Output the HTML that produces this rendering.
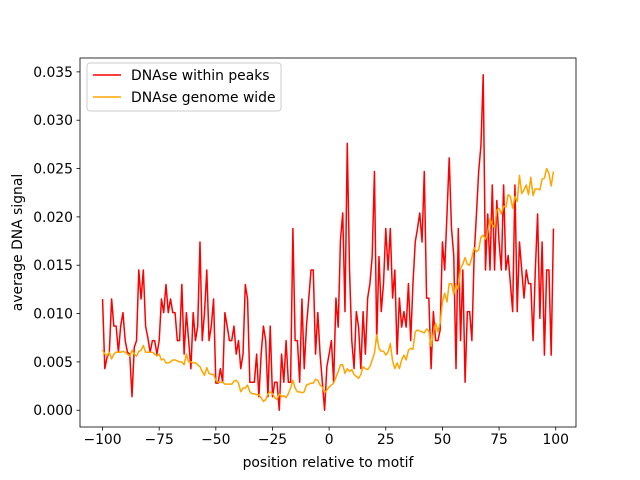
<!DOCTYPE html>
<html><head><meta charset="utf-8"><style>
html,body{margin:0;padding:0;background:#fff}
svg{display:block;font-family:"DejaVu Sans","Liberation Sans",sans-serif}
</style></head><body>
<svg id="chart" width="640" height="480" viewBox="0 0 640 480">
<rect width="640" height="480" fill="#fff"/>
<g id="plot"></g>
</svg>
<script>
const xStart = -100;
const redValues = [0.0115,0.0043,0.0055,0.006,0.0115,0.0087,0.0087,0.006,0.0087,0.0101,0.0072,0.006,0.0058,0.0014,0.0065,0.0072,0.0145,0.0115,0.0145,0.0087,0.0075,0.006,0.0072,0.0072,0.0058,0.0072,0.0115,0.0101,0.013,0.0101,0.0115,0.0101,0.0101,0.0072,0.0072,0.013,0.0058,0.0101,0.0072,0.0043,0.0101,0.0072,0.0087,0.0174,0.0072,0.0101,0.0145,0.0072,0.0087,0.0115,
0.0028,0.0028,0.0043,0.0029,0.0101,0.0087,0.0072,0.0072,0.0087,0.0058,0.0072,0.0043,0.0058,0.013,0.0115,0.0029,0.0029,0.0029,0.0058,0.0014,0.0058,0.0087,0.0072,0.0014,0.0087,0.0014,0.0029,0.0029,0,0.0058,0.0029,0.0072,0.0029,0.0029,0.0188,0.0072,0.0072,0.0029,0.0115,0.0043,0.0087,0.0115,0.0145,0.0145,0.0058,0.0101,0.0058,0.0029,
0,0.0045,0.0058,0.0072,0.0029,0.0116,0.0086,0.0176,0.0204,0.0102,0.0276,0.0145,0.0072,0.0043,0.0102,0.0086,0.0043,0.0102,0.0058,0.0116,0.0131,0.0159,0.0247,0.0072,0.0159,0.0102,0.0131,0.0188,0.0145,0.0188,0.0116,0.0145,0.0058,0.0116,0.0086,0.0102,0.0086,0.0131,0.0072,0.0131,0.0174,0.0188,0.0204,0.0174,0.0247,0.0116,0.0116,0.0043,0.0102,0.0072,0.0072,
0.0083,0.0174,0.0145,0.0202,0.0261,0.0188,0.016,0.0043,0.0188,0.0072,0.0145,0.0029,0.0102,0.0102,0.0072,0.016,0.0202,0.0247,0.0274,0.0347,0.0145,0.0203,0.0145,0.0233,0.0145,0.0217,0.0174,0.0145,0.0233,0.0145,0.016,0.0131,0.0102,0.0233,0.0102,0.0174,0.0145,0.0116,0.0145,0.0131,0.0131,0.0072,0.0145,0.0203,0.0095,0.0174,0.0057,0.0145,0.0145,0.0057,0.0188];
const orangeValues = [0.0062,0.0058,0.0057,0.006,0.0053,0.0058,0.006,0.006,0.006,0.0061,0.006,0.0058,0.0056,0.0062,0.0058,0.0056,0.0061,0.0062,0.0067,0.006,0.006,0.006,0.006,0.0058,0.0056,0.0058,0.0052,0.0053,0.0049,0.0049,0.005,0.0052,
0.0052,0.0051,0.005,0.005,0.0047,0.0058,0.005,0.005,0.0049,0.0049,0.0047,0.0045,0.004,0.0036,0.0044,0.0038,
0.0037,0.0037,0.0031,0.0029,0.0029,0.0029,0.0027,0.0027,0.0027,0.0027,0.003,0.0031,0.0028,0.0019,0.0023,0.0023,0.0026,0.0019,0.0017,0.0017,0.0016,0.0016,0.0013,0.0009,0.0011,0.0017,0.0019,0.0017,0.0013,0.0011,0.0017,0.0014,0.0015,0.0013,0.0017,0.0023,0.0031,0.0023,0.0019,0.0019,0.0018,0.0019,0.0026,0.0027,0.0028,0.0028,0.0032,0.0031,0.0026,0.0024,
0.0018,0.0021,0.0024,0.0026,0.0028,0.0034,0.004,0.0047,0.0047,0.0038,0.0043,0.004,0.0042,0.0037,0.0035,0.0033,0.0037,0.0045,0.0043,0.0042,0.0045,0.0052,0.0059,0.0078,0.0064,0.0061,0.0061,0.0057,0.006,0.0069,0.0051,0.0043,0.0049,0.0043,0.0052,0.0057,0.0052,0.0062,0.0064,0.0063,0.0081,0.0083,0.0082,0.0081,0.008,0.0084,0.0082,0.0066,0.008,0.009,0.0081,
0.009,0.0112,0.0121,0.0112,0.0131,0.0131,0.012,0.0131,0.0125,0.0147,0.0151,0.0158,0.0151,0.015,0.0158,0.0168,0.0164,0.0166,0.0179,0.0181,0.0177,0.0184,0.0198,0.0192,0.0189,0.0207,0.0209,0.0203,0.0211,0.021,0.0223,0.0221,0.0209,0.0221,0.0216,0.0243,0.0224,0.0228,0.0233,0.0223,0.0241,0.0222,0.0229,0.0229,0.0228,0.0239,0.024,0.025,0.0245,0.0232,0.0247];
const xTicks = [-100,-75,-50,-25,0,25,50,75,100];
const yTicks = [0,0.005,0.01,0.015,0.02,0.025,0.03,0.035];
const seriesNames = ["DNAse within peaks","DNAse genome wide"];

const L=80,R=576,T=58,B=427;
const xmin=-109.95,xmax=108.95,ymin=-0.001735,ymax=0.036435;
const sx=v=>L+(v-xmin)/(xmax-xmin)*(R-L);
const sy=v=>B-(v-ymin)/(ymax-ymin)*(B-T);
const NS="http://www.w3.org/2000/svg";
const g=document.getElementById('plot');
function mk(tag,attrs,parent){const e=document.createElementNS(NS,tag);for(const k in attrs)e.setAttribute(k,attrs[k]);(parent||g).appendChild(e);return e;}

function line(vals,color,name){
  const d=vals.map((v,i)=>(i?'L':'M')+sx(xStart+i).toFixed(2)+','+sy(v).toFixed(2)).join('');
  const p=mk('path',{d:d,fill:'none',stroke:color,'stroke-width':1.5,'stroke-linejoin':'round'});
  
  
}
line(redValues,'#ff0000');

line(orangeValues,'#ffa500');


const frame=mk('rect',{x:L,y:T,width:R-L,height:B-T,fill:'none',stroke:'#000','stroke-width':0.8});



xTicks.forEach(t=>{
  const x=sx(t);
  const tk=mk('line',{x1:x,x2:x,y1:B,y2:B+3.5,stroke:'#000','stroke-width':0.8});
  
  
  const tx=mk('text',{x:x,y:B+17,'font-size':'13.9px','text-anchor':'middle',fill:'#000'});
  tx.textContent=(t<0?'\u2212'+(-t):String(t));
  
  
});
yTicks.forEach(t=>{
  const y=sy(t);
  const tk=mk('line',{x1:L-3.5,x2:L,y1:y,y2:y,stroke:'#000','stroke-width':0.8});
  
  
  const tx=mk('text',{x:L-7,y:y+5,'font-size':'13.9px','text-anchor':'end',fill:'#000'});
  tx.textContent=t.toFixed(3);
  
  
});
const xl=mk('text',{x:(L+R)/2,y:467,'font-size':'13.9px','text-anchor':'middle',fill:'#000'});
xl.textContent='position relative to motif';


const yl=mk('text',{x:0,y:0,'font-size':'13.9px','text-anchor':'middle',fill:'#000',transform:'translate(22,'+((T+B)/2)+') rotate(-90)'});
yl.textContent='average DNA signal';



const lg=mk('g',{});


const box=mk('rect',{x:87,y:63,width:194,height:48,rx:3,fill:'#fff','fill-opacity':0.8,stroke:'#cccccc','stroke-width':1},lg);


const colors=['#ff0000','#ffa500'];
seriesNames.forEach((n,i)=>{
  const y=75+i*22;
  const ln=mk('line',{x1:93,x2:121,y1:y,y2:y,stroke:colors[i],'stroke-width':1.5},lg);
  
  
  const tx=mk('text',{x:131,y:y+5,'font-size':'13.9px',fill:'#000'},lg);
  tx.textContent=n;
  
  
});
</script>
</body></html>
